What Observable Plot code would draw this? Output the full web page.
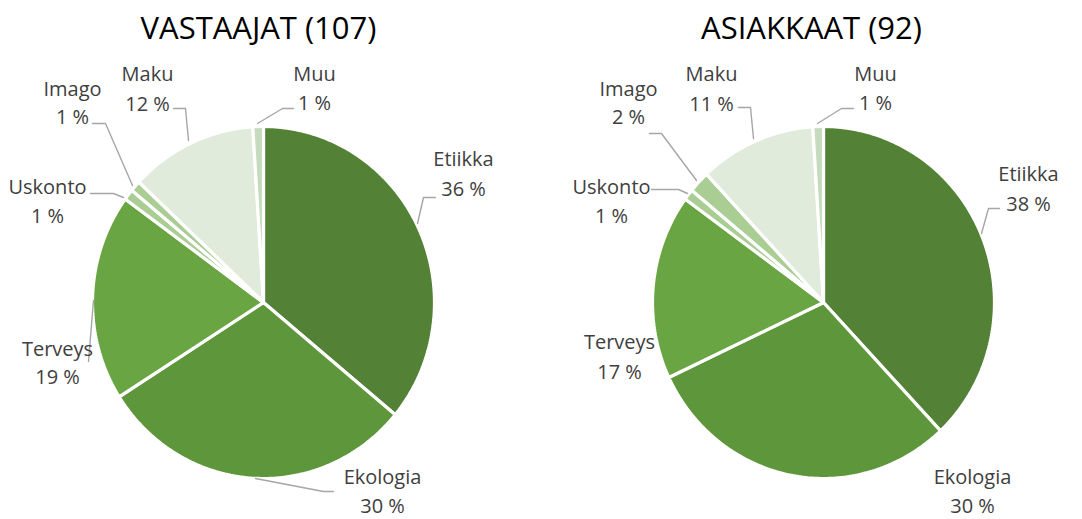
<!DOCTYPE html>
<html><head><meta charset="utf-8">
<script src="https://cdn.jsdelivr.net/npm/d3@7"></script>
<script src="https://cdn.jsdelivr.net/npm/@observablehq/plot@0.6"></script>
<style>
body{margin:0;background:#fff}
#wrap{display:flex;width:1082px;height:519px}
#wrap svg{display:block}
</style>
</head><body><div id="wrap"></div>
<script>
// ---- data ----
const categories = ["Etiikka","Ekologia","Terveys","Uskonto","Imago","Maku","Muu"];
const vastaajatValues = [36,30,19,1,1,12,1];
const asiakkaatValues = [38,30,17,1,2,11,1];
const chartTitles = ["VASTAAJAT (107)","ASIAKKAAT (92)"];

// ---- styles ----
const sliceColors = ["#538135","#5e963c","#6aa544","#a9cd93","#a9cd93","#e0ebdc","#c5dcbc"];
const FONT = "'Open Sans', sans-serif";

// ---- layout (local pixel space of each 541x519 panel) ----
const layouts = [
  {cx:263, cy:302, rx:171, ry:176, titleX:258, titleY:38,
   labels:{Etiikka:[463,165,195],Ekologia:[382,483,512],Terveys:[57,355,383],Uskonto:[47,193,222],Imago:[72,95,123],Maku:[147,80,110],Muu:[314,80,109]},
   leaders:{Etiikka:[[417,223],[423,197],[435,197]],Maku:[[188,140],[185,108],[173,108]],Muu:[[257,123],[282,108],[293,108]],
            Imago:[[132,185],[105,123],[92,123]],Uskonto:[[123,197],[113,193],[90,193]],Terveys:[[93,300],[88,361]],
            Ekologia:[[255,478],[323,491],[333,491]]}},
  {cx:282, cy:302, rx:171, ry:176, titleX:270, titleY:38,
   labels:{Etiikka:[487,180,210],Ekologia:[431,483,512],Terveys:[78,348,378],Uskonto:[70,193,222],Imago:[87,95,123],Maku:[170,80,110],Muu:[334,80,109]},
   leaders:{Etiikka:[[440,233],[447,208],[458,208]],Maku:[[212,138],[209,107],[197,107]],Muu:[[276,123],[300,108],[312,108]],
            Imago:[[155,180],[120,133],[108,133]],Uskonto:[[146,193],[137,189],[110,189]]}}
];

const W = 541, H = 519;

function wedgePoints(values, L) {
  const arcs = d3.pie().sort(null).value(d => d)(values);
  const pts = [];
  arcs.forEach((a, i) => {
    const key = categories[i], color = sliceColors[i];
    pts.push({key, color, x: L.cx, y: L.cy});
    const n = Math.max(2, Math.ceil((a.endAngle - a.startAngle) / (Math.PI / 180)));
    for (let k = 0; k <= n; k++) {
      const t = a.startAngle + (a.endAngle - a.startAngle) * k / n;
      pts.push({key, color, x: L.cx + L.rx * Math.sin(t), y: L.cy - L.ry * Math.cos(t)});
    }
  });
  return pts;
}

function makeChart(values, title, L) {
  const labelRows = [];
  categories.forEach((c, i) => {
    const p = L.labels[c];
    labelRows.push({text: c, x: p[0], y: p[1]});
    labelRows.push({text: `${values[i]} %`, x: p[0], y: p[2]});
  });
  const leaderRows = [];
  Object.entries(L.leaders).forEach(([k, pts]) => pts.forEach(([x, y]) => leaderRows.push({key: k, x, y})));
  return Plot.plot({
    width: W, height: H, margin: 0,
    style: {background: "#fff", fontFamily: FONT, overflow: "visible"},
    x: {domain: [0, W], range: [0, W], axis: null},
    y: {domain: [0, H], range: [0, H], axis: null},
    color: {type: "identity"},
    marks: [
      Plot.line(wedgePoints(values, L), {x: "x", y: "y", z: "key", fill: "color", stroke: "#fff", strokeWidth: 3.2, strokeLinejoin: "miter", curve: "linear-closed"}),
      Plot.line(leaderRows, {x: "x", y: "y", z: "key", stroke: "#a6a6a6", strokeWidth: 1.4}),
      Plot.text(labelRows, {x: "x", y: "y", text: "text", fontSize: 20, fill: "#404040", textAnchor: "middle", lineAnchor: "bottom", fontFamily: FONT}),
      Plot.text([title], {x: () => L.titleX, y: () => L.titleY, text: d => d, fontSize: 31, fill: "#000", textAnchor: "middle", lineAnchor: "bottom", fontFamily: FONT})
    ]
  });
}

const wrap = document.getElementById("wrap");
wrap.appendChild(makeChart(vastaajatValues, chartTitles[0], layouts[0]));
wrap.appendChild(makeChart(asiakkaatValues, chartTitles[1], layouts[1]));
</script>
</body></html>
